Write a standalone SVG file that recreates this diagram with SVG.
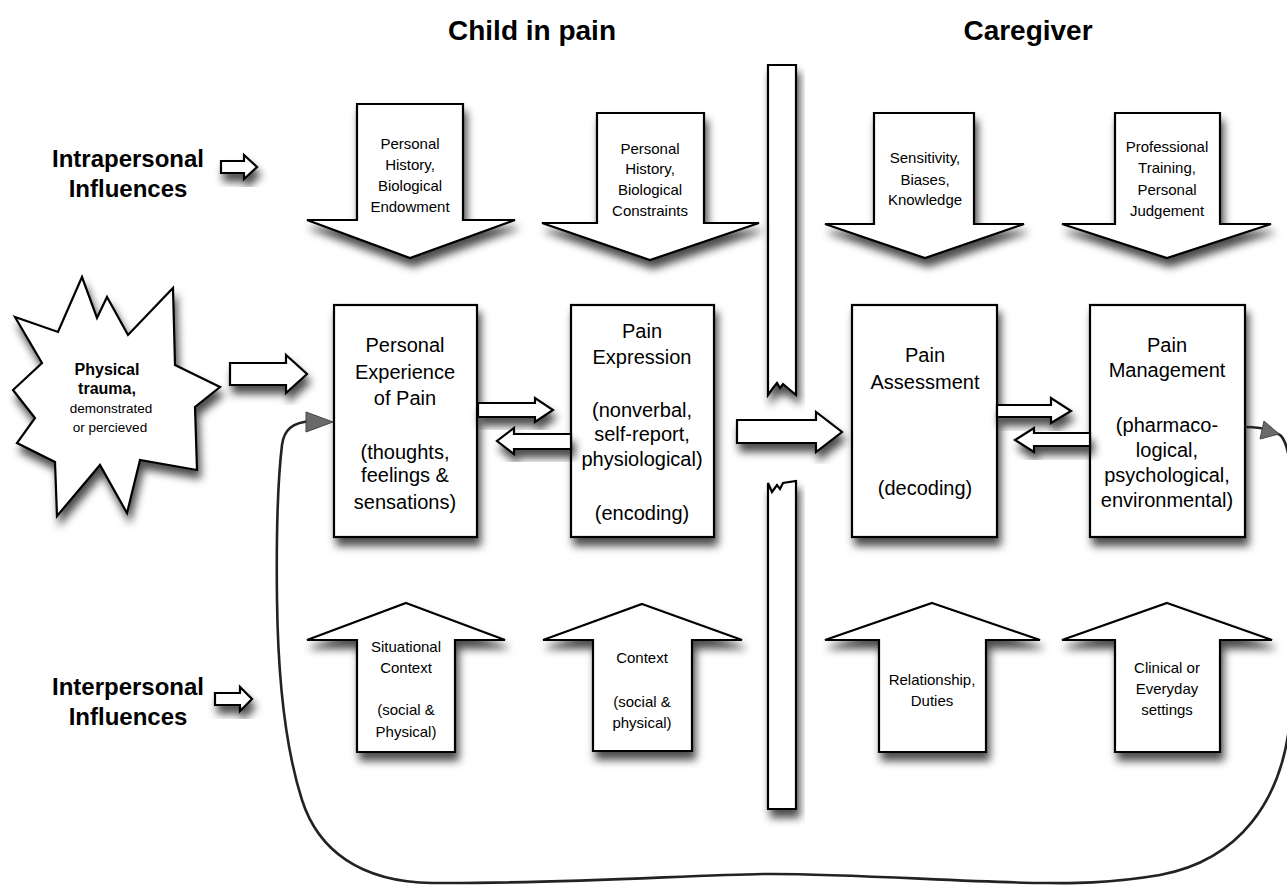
<svg xmlns="http://www.w3.org/2000/svg" width="1287" height="885" viewBox="0 0 1287 885">
<defs>
<filter id="sh" x="-20%" y="-20%" width="150%" height="150%">
<feDropShadow dx="3" dy="8" stdDeviation="4.5" flood-color="#000" flood-opacity="0.7"/>
</filter>
<style>
.shape{fill:#fff;stroke:#000;stroke-width:2.2;stroke-linejoin:miter;filter:url(#sh)}
.t{font-family:"Liberation Sans",Arial,sans-serif;fill:#000;text-anchor:middle}
.title{font-size:28px;font-weight:bold}
.side{font-size:24px;font-weight:bold}
.box{font-size:20px}
.sm{font-size:15px}
.star{font-size:13.5px}
.starb{font-size:16px;font-weight:bold}
.curve{fill:none;stroke:#222;stroke-width:2.6}
.head{fill:#6a6a6a;stroke:#444;stroke-width:1}
</style>
</defs>
<rect width="1287" height="885" fill="#fff"/>

<g id="titles">
<text class="t title" x="532" y="40">Child in pain</text>
<text class="t title" x="1028" y="40">Caregiver</text>
</g>

<g id="intrapersonal">
<text class="t side" x="128" y="167">Intrapersonal</text>
<text class="t side" x="128" y="197">Influences</text>
<path class="shape" d="M221,161 H244 V155 L257,167 L244,179 V173 H221 Z"/>
</g>

<g id="interpersonal">
<text class="t side" x="128" y="695">Interpersonal</text>
<text class="t side" x="128" y="725">Influences</text>
<path class="shape" d="M215,693 H240 V687 L252,699 L240,711 V705 H215 Z"/>
</g>

<g id="divider">
<path class="shape" d="M768,65 H796 V395 L783,384 L780,388 L777,383 L773,388 L768,395 Z"/>
<path class="shape" d="M768,483 L772,492 L777,485 L780,489 L783,483 L796,481 V809 H768 Z"/>
</g>

<g id="top-arrow-1">
<path class="shape" d="M357,104 H463 V220 H515 L410,258 L307,220 H357 Z"/>
<text class="t sm" x="410" y="149">Personal</text>
<text class="t sm" x="410" y="170">History,</text>
<text class="t sm" x="410" y="191">Biological</text>
<text class="t sm" x="410" y="212">Endowment</text>
</g>
<g id="top-arrow-2">
<path class="shape" d="M597,113 H704 V223 H759 L650,260 L542,223 H597 Z"/>
<text class="t sm" x="650" y="154">Personal</text>
<text class="t sm" x="650" y="174">History,</text>
<text class="t sm" x="650" y="195">Biological</text>
<text class="t sm" x="650" y="216">Constraints</text>
</g>
<g id="top-arrow-3">
<path class="shape" d="M874,113 H974 V224 H1024 L925,258 L825,224 H874 Z"/>
<text class="t sm" x="925" y="163">Sensitivity,</text>
<text class="t sm" x="925" y="185">Biases,</text>
<text class="t sm" x="925" y="205">Knowledge</text>
</g>
<g id="top-arrow-4">
<path class="shape" d="M1115,113 H1220 V224 H1271 L1167,258 L1062,224 H1115 Z"/>
<text class="t sm" x="1167" y="152">Professional</text>
<text class="t sm" x="1167" y="173">Training,</text>
<text class="t sm" x="1167" y="195">Personal</text>
<text class="t sm" x="1167" y="216">Judgement</text>
</g>

<g id="trauma">
<polygon class="shape" points="82,277 97,318 107,297 128,335 173,288 175,365 220,387 195,407 197,470 140,460 127,513 100,465 57,516 55,462 17,443 35,418 13,390 42,363 15,317 58,332"/>
<text class="t starb" x="107" y="375">Physical</text>
<text class="t starb" x="107" y="394">trauma,</text>
<text class="t star" x="111" y="413">demonstrated</text>
<text class="t star" x="110" y="432">or percieved</text>
</g>

<g id="experience">
<rect class="shape" x="334" y="305" width="143" height="232"/>
<text class="t box" x="405" y="352">Personal</text>
<text class="t box" x="405" y="379">Experience</text>
<text class="t box" x="405" y="405">of Pain</text>
<text class="t box" x="405" y="459">(thoughts,</text>
<text class="t box" x="405" y="482">feelings &amp;</text>
<text class="t box" x="405" y="509">sensations)</text>
</g>

<g id="expression">
<rect class="shape" x="571" y="305" width="143" height="232"/>
<text class="t box" x="642" y="338">Pain</text>
<text class="t box" x="642" y="364">Expression</text>
<text class="t box" x="642" y="417">(nonverbal,</text>
<text class="t box" x="642" y="441">self-report,</text>
<text class="t box" x="642" y="466">physiological)</text>
<text class="t box" x="642" y="520">(encoding)</text>
</g>

<g id="assessment">
<rect class="shape" x="852" y="305" width="145" height="232"/>
<text class="t box" x="925" y="362">Pain</text>
<text class="t box" x="925" y="389">Assessment</text>
<text class="t box" x="925" y="495">(decoding)</text>
</g>

<g id="management">
<rect class="shape" x="1090" y="305" width="155" height="232"/>
<text class="t box" x="1167" y="352">Pain</text>
<text class="t box" x="1167" y="377">Management</text>
<text class="t box" x="1167" y="432">(pharmaco-</text>
<text class="t box" x="1167" y="457">logical,</text>
<text class="t box" x="1167" y="482">psychological,</text>
<text class="t box" x="1167" y="507">environmental)</text>
</g>

<g id="bottom-arrow-1">
<path class="shape" d="M406,603 L505,640 H455 V752 H357 V640 H307 Z"/>
<text class="t sm" x="406" y="652">Situational</text>
<text class="t sm" x="406" y="673">Context</text>
<text class="t sm" x="406" y="715">(social &amp;</text>
<text class="t sm" x="406" y="737">Physical)</text>
</g>
<g id="bottom-arrow-2">
<path class="shape" d="M642,604 L742,640 H692 V751 H593 V640 H543 Z"/>
<text class="t sm" x="642" y="663">Context</text>
<text class="t sm" x="642" y="707">(social &amp;</text>
<text class="t sm" x="642" y="728">physical)</text>
</g>
<g id="bottom-arrow-3">
<path class="shape" d="M932,603 L1040,640 H986 V752 H879 V640 H825 Z"/>
<text class="t sm" x="932" y="685">Relationship,</text>
<text class="t sm" x="932" y="706">Duties</text>
</g>
<g id="bottom-arrow-4">
<path class="shape" d="M1167,603 L1272,640 H1220 V752 H1115 V640 H1062 Z"/>
<text class="t sm" x="1167" y="673">Clinical or</text>
<text class="t sm" x="1167" y="694">Everyday</text>
<text class="t sm" x="1167" y="715">settings</text>
</g>

<g id="connectors">
<path class="shape" d="M230,363 H286 V355 L307,374 L286,393 V385 H230 Z"/>
<path class="shape" d="M478,403 H535 V398 L553,410 L535,422 V417 H478 Z"/>
<path class="shape" d="M571,434 H514 V428 L497,441 L514,454 V449 H571 Z"/>
<path class="shape" d="M737,420 H816 V412 L842,432 L816,452 V443 H737 Z"/>
<path class="shape" d="M997,405 H1051 V398 L1071,411 L1051,423 V417 H997 Z"/>
<path class="shape" d="M1090,433 H1034 V428 L1015,440 L1034,452 V446 H1090 Z"/>
<path class="curve" d="M1245,427 C1262,427 1272,430 1280,435 C1300,450 1300,620 1290,720 C1282,800 1240,860 1160,875 C1100,885 1060,883 1040,883 C960,882 840,873 763,874 C690,875 560,884 432,883 C360,882 318,850 302,800 C286,750 278,680 277,600 C276,520 279,470 282,445 C284,430 292,422 312,421"/>
<polygon class="head" points="1279,434 1260,439 1264,421"/>
<polygon class="head" points="333,422 306,412 306,432"/>
</g>
</svg>
